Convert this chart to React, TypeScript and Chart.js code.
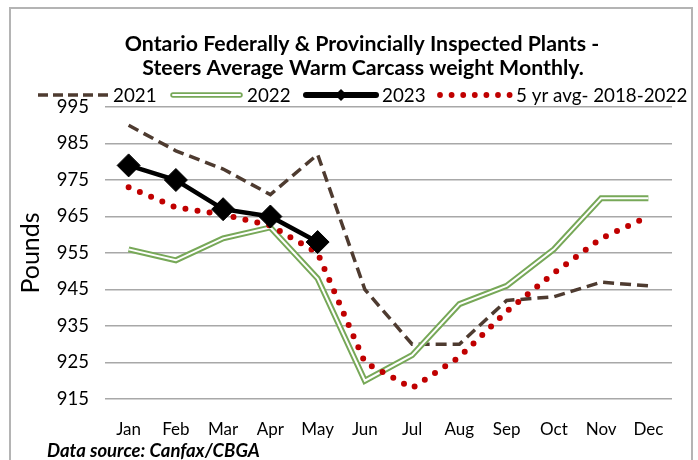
import { useEffect, useRef } from "react";
import { Chart, registerables } from "chart.js";

Chart.register(...registerables);

const months = ["Jan", "Feb", "Mar", "Apr", "May", "Jun", "Jul", "Aug", "Sep", "Oct", "Nov", "Dec"];
const s2021 = [990, 983, 978, 971, 982, 945, 930, 930, 942, 943, 947, 946];
const s2022 = [956, 953, 959, 962, 948, 920, 927, 941, 946, 956, 970, 970];
const s2023 = [979, 975, 967, 965, 958];
const avg5 = [973, 967.5, 965.5, 962.5, 955, 925, 918, 926.5, 939, 949.5, 959, 965];
const yMin = 915;
const yMax = 995;
const yStep = 10;

const titleLines = [
  "Ontario Federally & Provincially Inspected Plants -",
  "Steers Average Warm Carcass weight Monthly.",
];
const legendLabels = ["2021", "2022", "2023", "5 yr avg- 2018-2022"];
const yTitle = "Pounds";
const sourceText = "Data source: Canfax/CBGA";

const BROWN = "#4e3b30";
const GREEN = "#77a858";
const RED = "#c00000";
const GRID = "#a8a8a8";
const FRAME = "#b4b4b4";

const decorPlugin = {
  id: "decor",
  beforeDraw(chart: any) {
    const ctx = chart.ctx;
    ctx.save();
    ctx.strokeStyle = FRAME;
    ctx.lineWidth = 2;
    ctx.beginPath();
    ctx.moveTo(10, 470);
    ctx.lineTo(10, 8);
    ctx.lineTo(692, 8);
    ctx.lineTo(692, 470);
    ctx.stroke();
    ctx.restore();
  },
  afterDraw(chart: any) {
    const ctx = chart.ctx;
    ctx.save();
    // title
    ctx.fillStyle = "#000";
    ctx.textAlign = "center";
    ctx.textBaseline = "alphabetic";
    ctx.font = "bold 21.3px Lato";
    ctx.fillText(titleLines[0], 362, 51);
    ctx.fillText(titleLines[1], 363, 75);

    // legend
    const ly = 95;
    ctx.font = "18.8px Lato";
    ctx.textAlign = "left";
    ctx.textBaseline = "middle";
    // 2021
    ctx.strokeStyle = BROWN;
    ctx.lineWidth = 3.5;
    ctx.setLineDash([10, 5]);
    ctx.beginPath();
    ctx.moveTo(38, ly);
    ctx.lineTo(108, ly);
    ctx.stroke();
    ctx.setLineDash([]);
    ctx.fillText(legendLabels[0], 113, ly + 1);
    // 2022
    ctx.lineCap = "round";
    ctx.strokeStyle = GREEN;
    ctx.lineWidth = 5.5;
    ctx.beginPath();
    ctx.moveTo(173, ly);
    ctx.lineTo(240, ly);
    ctx.stroke();
    ctx.strokeStyle = "#fff";
    ctx.lineWidth = 2;
    ctx.beginPath();
    ctx.moveTo(173, ly);
    ctx.lineTo(240, ly);
    ctx.stroke();
    ctx.fillText(legendLabels[1], 247, ly + 1);
    // 2023
    ctx.strokeStyle = "#000";
    ctx.lineWidth = 6;
    ctx.beginPath();
    ctx.moveTo(306, ly);
    ctx.lineTo(376, ly);
    ctx.stroke();
    ctx.fillStyle = "#000";
    ctx.beginPath();
    ctx.moveTo(341, ly - 6);
    ctx.lineTo(347, ly);
    ctx.lineTo(341, ly + 6);
    ctx.lineTo(335, ly);
    ctx.closePath();
    ctx.fill();
    ctx.fillText(legendLabels[2], 382, ly + 1);
    // 5yr
    ctx.fillStyle = RED;
    for (let i = 0; i < 7; i++) {
      ctx.beginPath();
      ctx.arc(440 + i * 11.6, ly, 2.9, 0, Math.PI * 2);
      ctx.fill();
    }
    ctx.fillStyle = "#000";
    ctx.fillText(legendLabels[3], 516, ly + 1);

    // source
    ctx.font = "italic bold 18.5px Lato";
    ctx.textBaseline = "alphabetic";
    ctx.fillText(sourceText, 47, 457);
    ctx.restore();
  },
};

export default function App() {
  const ref = useRef<HTMLCanvasElement>(null);
  useEffect(() => {
    document.body.style.margin = "0";
    const chart = new Chart(ref.current!, {
      type: "line",
      data: {
        labels: months,
        datasets: [
          {
            label: legendLabels[2],
            data: s2023,
            borderColor: "#000",
            backgroundColor: "#000",
            borderWidth: 4.5,
            pointStyle: "rectRot",
            pointRadius: 11.5,
            pointBorderWidth: 1,
            order: 0,
          },
          {
            label: legendLabels[3],
            data: avg5,
            borderColor: RED,
            borderWidth: 6,
            borderDash: [0, 12.2],
            borderCapStyle: "round",
            pointRadius: 0,
            order: 1,
          },
          {
            label: legendLabels[1] + " inner",
            data: s2022,
            borderColor: "#fff",
            borderWidth: 2,
            pointRadius: 0,
            order: 2,
          },
          {
            label: legendLabels[1],
            data: s2022,
            borderColor: GREEN,
            borderWidth: 6,
            pointRadius: 0,
            order: 3,
          },
          {
            label: legendLabels[0],
            data: s2021,
            borderColor: BROWN,
            borderWidth: 3.5,
            borderDash: [11, 6],
            pointRadius: 0,
            order: 4,
          },
        ],
      },
      options: {
        animation: false,
        responsive: true,
        maintainAspectRatio: false,
        layout: { padding: { left: 10, top: 107, right: 26, bottom: 21 } },
        plugins: {
          legend: { display: false },
          title: { display: false },
          tooltip: { enabled: false },
        },
        scales: {
          x: {
            offset: true,
            grid: { display: false },
            border: { display: false },
            ticks: {
              color: "#000",
              font: { family: "Lato", size: 17 },
              padding: 12,
              maxRotation: 0,
            },
            afterFit(scale: any) {
              scale.height = 40;
            },
          },
          y: {
            min: yMin,
            max: yMax,
            grid: { color: GRID, lineWidth: 1.5, drawTicks: false },
            border: { display: false },
            ticks: {
              stepSize: yStep,
              color: "#000",
              font: { family: "Lato", size: 18.5 },
              padding: 16,
            },
            title: {
              display: true,
              text: yTitle,
              color: "#000",
              font: { family: "Lato", size: 25 },
              padding: { top: 6, bottom: 0 },
            },
            afterFit(scale: any) {
              scale.width = 95;
            },
          },
        },
      },
      plugins: [decorPlugin],
    });
    return () => chart.destroy();
  }, []);
  return (
    <div style={{ width: 698, height: 460, position: "relative", background: "#fff" }}>
      <canvas ref={ref} />
    </div>
  );
}
